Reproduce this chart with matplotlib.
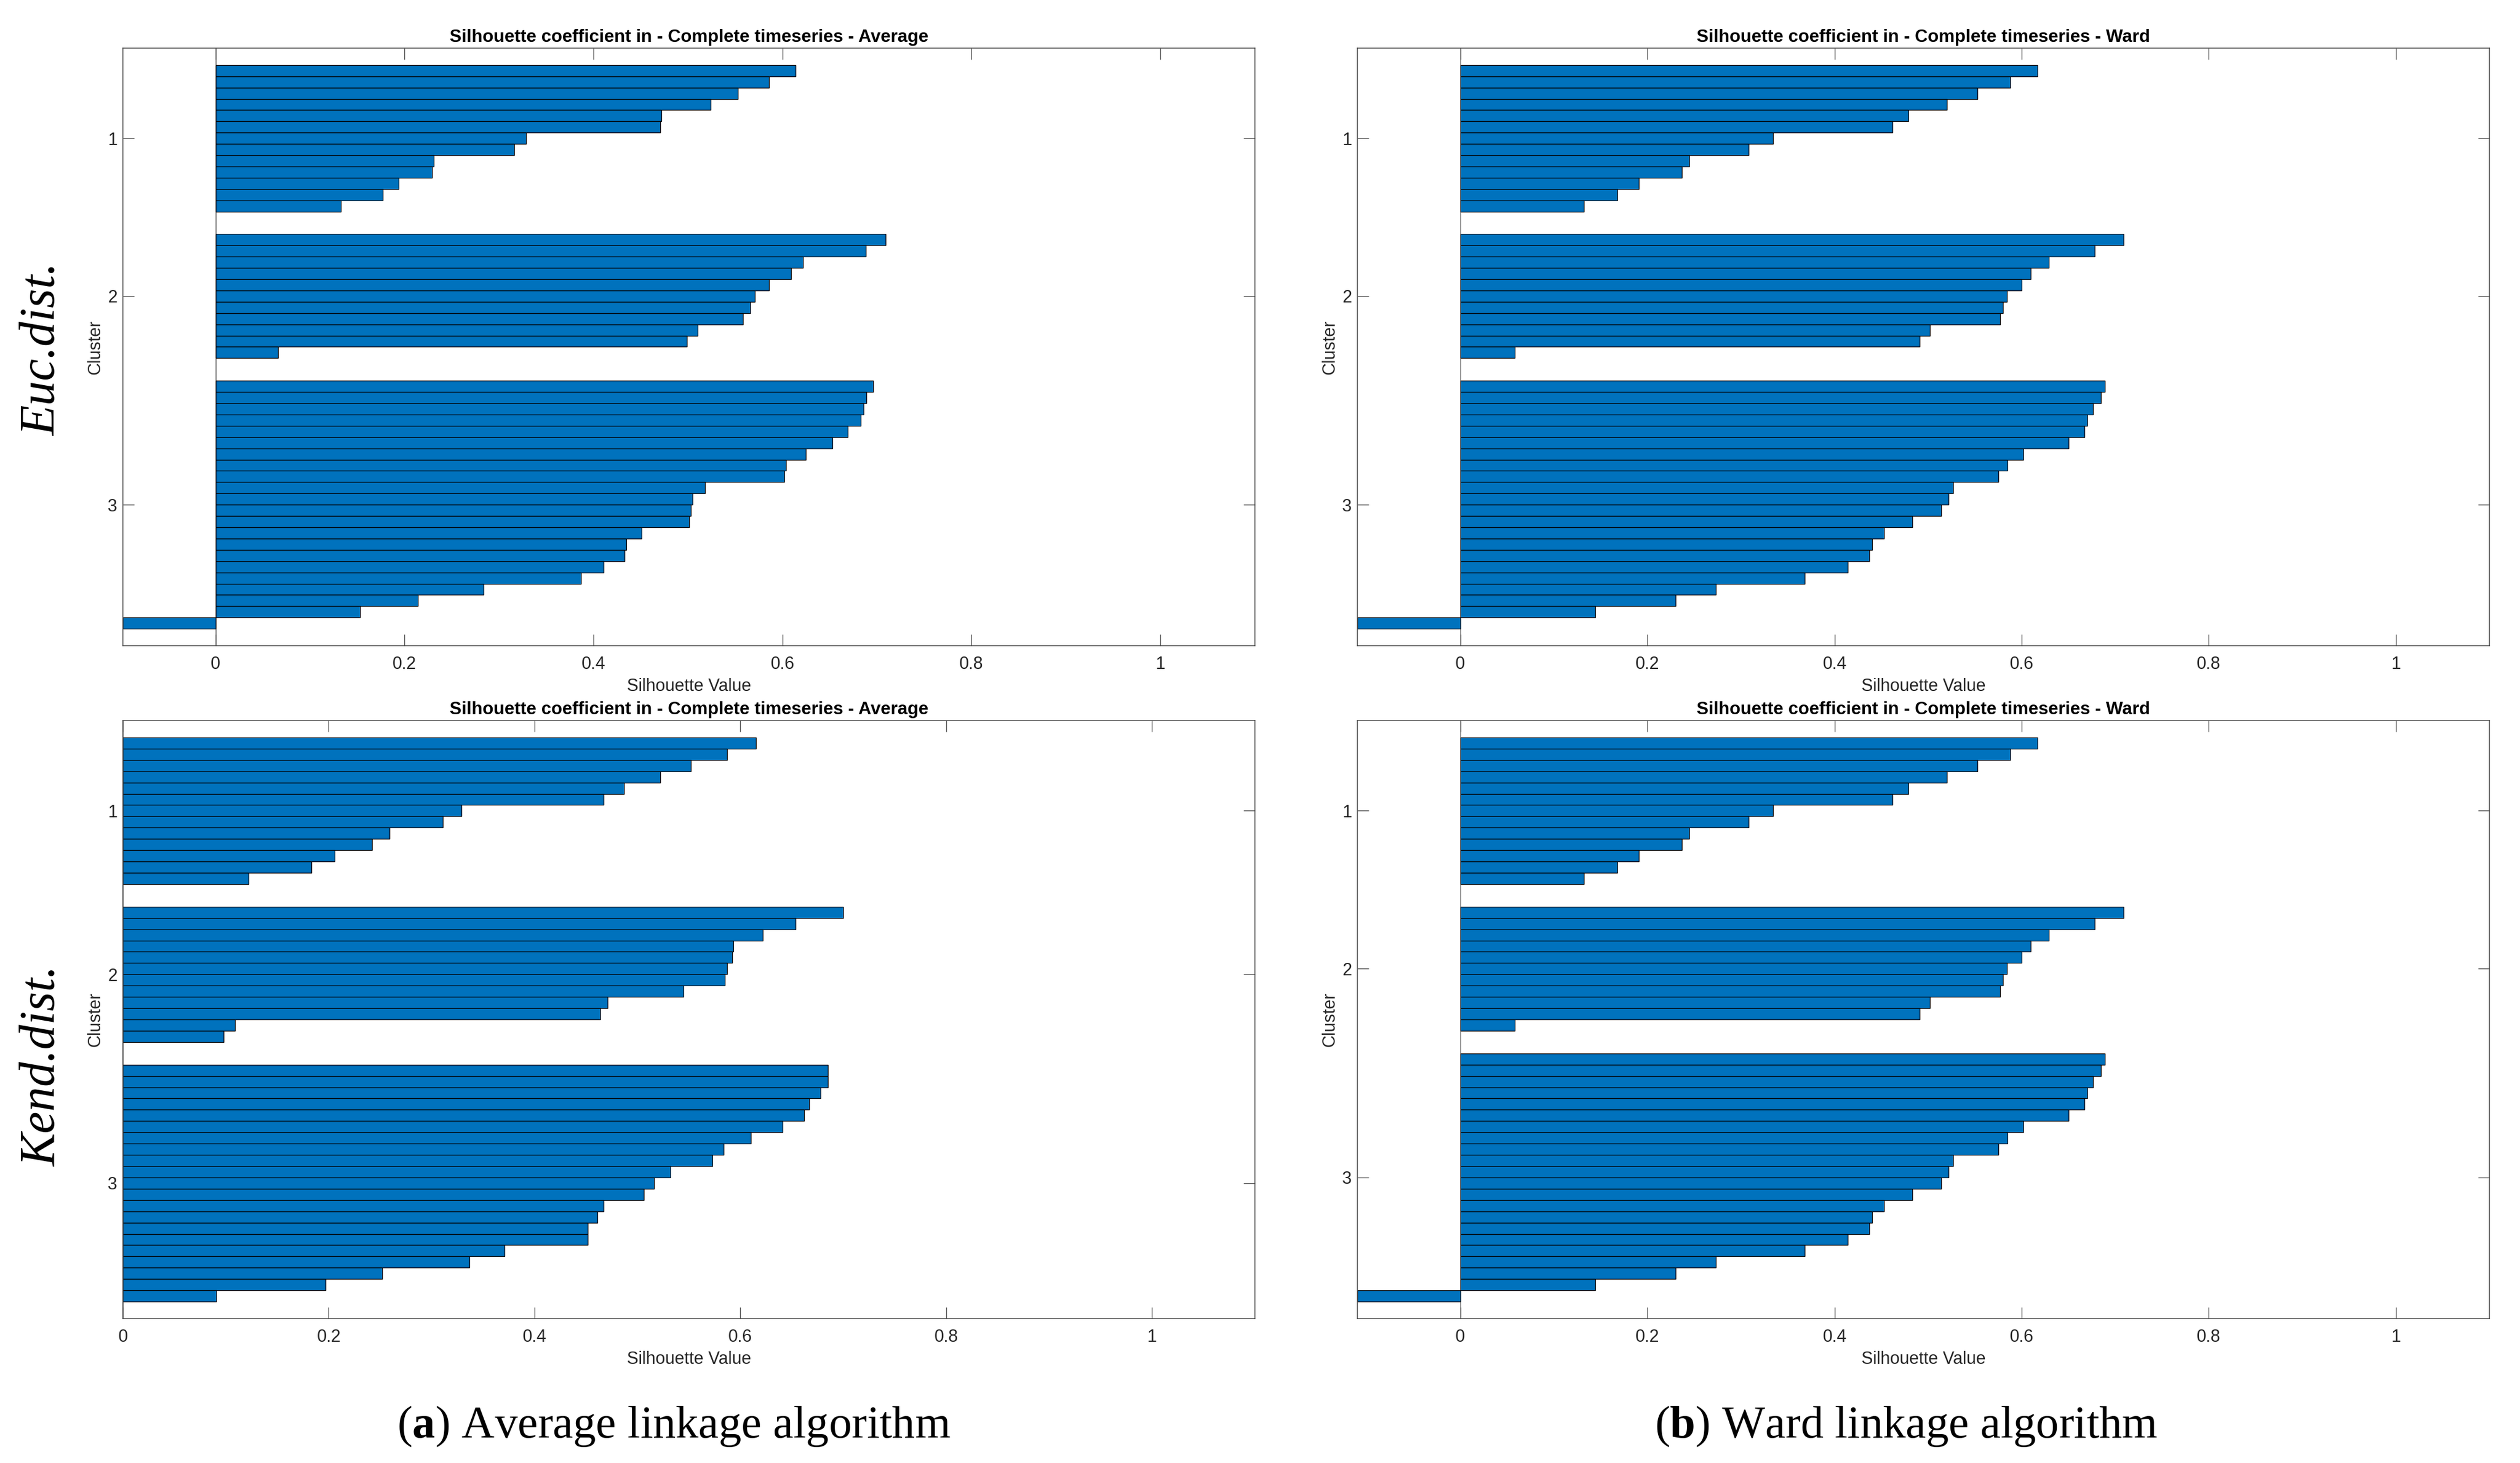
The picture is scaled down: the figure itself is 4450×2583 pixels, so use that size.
import matplotlib
matplotlib.use('Agg')
import matplotlib.pyplot as plt

W, H = 4450, 2583
DPI = 100

plt.rcParams['font.family'] = ['Liberation Sans', 'DejaVu Sans']
plt.rcParams['mathtext.fontset'] = 'custom'
plt.rcParams['mathtext.rm'] = 'Liberation Serif'
plt.rcParams['mathtext.bf'] = 'Liberation Serif:bold'

# ---------------- data (silhouette values, sorted within each cluster) ----------------
cluster_names = ['1', '2', '3']

euc_avg_c1 = [0.614, 0.586, 0.553, 0.524, 0.472, 0.471, 0.329, 0.316, 0.231, 0.229, 0.194, 0.177, 0.133]
euc_avg_c2 = [0.709, 0.688, 0.622, 0.609, 0.586, 0.571, 0.566, 0.558, 0.510, 0.499, 0.066]
euc_avg_c3 = [0.696, 0.689, 0.686, 0.683, 0.669, 0.653, 0.625, 0.604, 0.602, 0.518, 0.505,
              0.503, 0.501, 0.451, 0.435, 0.433, 0.411, 0.387, 0.284, 0.214, 0.153, -0.098]

ward_c1 = [0.617, 0.588, 0.553, 0.520, 0.479, 0.462, 0.334, 0.308, 0.245, 0.237, 0.191, 0.168, 0.132]
ward_c2 = [0.709, 0.678, 0.629, 0.610, 0.600, 0.584, 0.580, 0.577, 0.502, 0.491, 0.058]
ward_c3 = [0.689, 0.685, 0.676, 0.670, 0.667, 0.650, 0.602, 0.585, 0.575, 0.527, 0.522,
           0.514, 0.483, 0.453, 0.440, 0.437, 0.414, 0.368, 0.273, 0.230, 0.144, -0.110]

kend_avg_c1 = [0.615, 0.587, 0.552, 0.522, 0.487, 0.467, 0.329, 0.311, 0.259, 0.242, 0.206, 0.183, 0.122]
kend_avg_c2 = [0.700, 0.654, 0.622, 0.593, 0.592, 0.587, 0.585, 0.545, 0.471, 0.464, 0.109, 0.098]
kend_avg_c3 = [0.685, 0.685, 0.678, 0.667, 0.662, 0.641, 0.610, 0.584, 0.573, 0.532, 0.516,
               0.506, 0.467, 0.461, 0.452, 0.452, 0.371, 0.337, 0.252, 0.197, 0.091]

x_ticks = [0, 0.2, 0.4, 0.6, 0.8, 1.0]
x_tick_labels = ['0', '0.2', '0.4', '0.6', '0.8', '1']

title_avg = 'Silhouette coefficient in - Complete timeseries - Average'
title_ward = 'Silhouette coefficient in - Complete timeseries - Ward'
row_labels = ['Euc.dist.', 'Kend.dist.']
caption_a = r'($\mathbf{a}$) Average linkage algorithm'
caption_b = r'($\mathbf{b}$) Ward linkage algorithm'

# ---------------- styling ----------------
BAR_COLOR = '#0072BD'
AX_COLOR = '#4a4a4a'
TXT_COLOR = '#262626'


def px_rect(l, t, r, b):
    return [l / W, 1 - b / H, (r - l) / W, (b - t) / H]


def silhouette_layout(groups, space=2):
    ys, vals, ticks = [], [], []
    pos = space
    for g in groups:
        start = pos + 1
        for j, v in enumerate(g):
            ys.append(start + j)
            vals.append(v)
        end = start + len(g) - 1
        ticks.append((start + end) / 2)
        pos = end + space
    return ys, vals, ticks, pos


fig = plt.figure(figsize=(W / DPI, H / DPI), dpi=DPI)
fig.patch.set_facecolor('white')

panels = [
    ((217, 85, 2216, 1140), [euc_avg_c1, euc_avg_c2, euc_avg_c3], title_avg),
    ((2397, 85, 4396, 1140), [ward_c1, ward_c2, ward_c3], title_ward),
    ((217, 1272, 2216, 2328), [kend_avg_c1, kend_avg_c2, kend_avg_c3], title_avg),
    ((2397, 1272, 4396, 2328), [ward_c1, ward_c2, ward_c3], title_ward),
]

for (l, t, r, b), groups, title in panels:
    ax = fig.add_axes(px_rect(l, t, r, b))
    ys, vals, ticks, total = silhouette_layout(groups)
    ax.axvline(0, color=AX_COLOR, lw=1.0, zorder=1)
    ax.barh(ys, vals, height=1.0, color=BAR_COLOR, edgecolor='black', linewidth=0.9, zorder=2)
    ax.set_xlim(min(0, min(vals)), 1.1)
    ax.set_ylim(total, 1)
    ax.set_xticks(x_ticks)
    ax.set_xticklabels(x_tick_labels)
    ax.set_yticks(ticks)
    ax.set_yticklabels(cluster_names)
    ax.tick_params(axis='both', direction='in', length=14.4, width=1.0, color=AX_COLOR,
                   labelcolor=TXT_COLOR, labelsize=22, top=True, right=True)
    ax.tick_params(axis='x', pad=13)
    ax.tick_params(axis='y', pad=7)
    for s in ax.spines.values():
        s.set_color(AX_COLOR)
        s.set_linewidth(1.1)
        s.set_zorder(3)
    ax.set_xlabel('Silhouette Value', fontsize=22, color=TXT_COLOR)
    ax.xaxis.set_label_coords(0.5, -(1197 - 1140) / (b - t))
    ax.set_ylabel('Cluster', fontsize=22, color=TXT_COLOR)
    ax.yaxis.set_label_coords(-33 / (r - l), 0.5)
    fig.text(((l + r) / 2) / W, 1 - (t - 11) / H, title, ha='center', va='baseline',
             fontsize=22.8, fontweight='bold', color='black')

# row labels
fig.text(97 / W, 1 - 617 / H, row_labels[0], rotation=90, rotation_mode='anchor',
         ha='center', va='baseline', family='Liberation Serif', style='italic', fontsize=63)
fig.text(97 / W, 1 - 1883 / H, row_labels[1], rotation=90, rotation_mode='anchor',
         ha='center', va='baseline', family='Liberation Serif', style='italic', fontsize=63)

# captions
fig.text(1190 / W, 1 - 2538 / H, caption_a, ha='center', va='baseline',
         family='Liberation Serif', fontsize=58)
fig.text(3366 / W, 1 - 2538 / H, caption_b, ha='center', va='baseline',
         family='Liberation Serif', fontsize=58)

fig.savefig('out.png', dpi=DPI, facecolor='white')
